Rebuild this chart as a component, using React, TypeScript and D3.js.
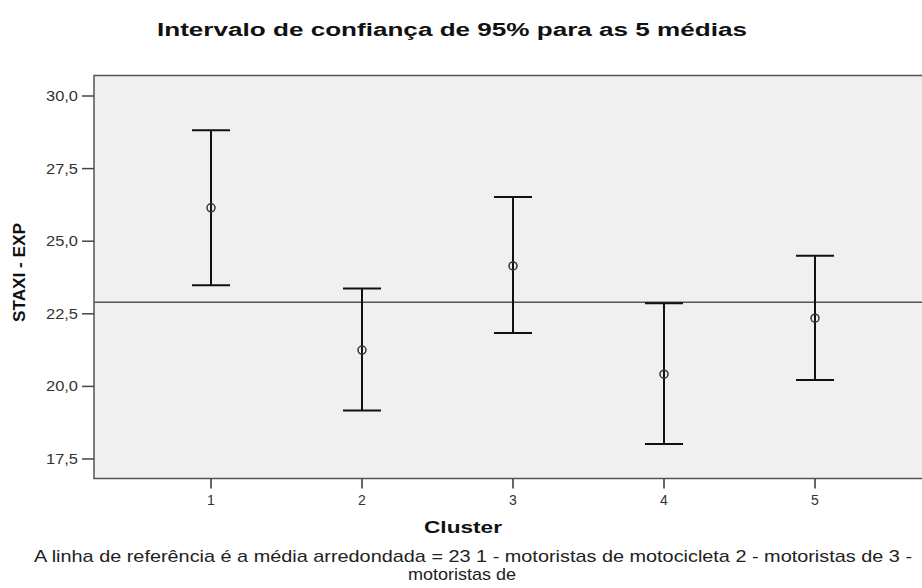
import React from "react";
import * as d3 from "d3";

const clusters = ["1", "2", "3", "4", "5"];
const means = [26.15, 21.25, 24.15, 20.42, 22.35];
const lower = [23.48, 19.17, 21.84, 18.02, 20.22];
const upper = [28.82, 23.37, 26.52, 22.86, 24.5];
const yTicks = [17.5, 20.0, 22.5, 25.0, 27.5, 30.0];
const refValue = 22.9;

const title = "Intervalo de confiança de 95% para as 5 médias";
const yLabel = "STAXI - EXP";
const xLabel = "Cluster";
const foot1 = "A linha de referência é a média arredondada = 23 1 - motoristas de motocicleta 2 - motoristas de 3 -";
const foot2 = "motoristas de";

export default function App() {
  const W = 922, H = 588;
  const left = 94, right = 932, top = 75.5, bottom = 478.5;
  const x = d3.scalePoint<string>().domain(clusters).range([211, 815]);
  const y = d3.scaleLinear().domain([17.5, 30]).range([459, 96]);
  const fmt = (v: number) => v.toFixed(1).replace(".", ",");
  const font = "'Liberation Sans', Arial, sans-serif";
  const capW = 19;
  return (
    <svg width={W} height={H} style={{ position: "absolute", left: 0, top: 0, display: "block" }}>
      <rect x={0} y={0} width={W} height={H} fill="#fff" />
      <text x={452} y={36} textAnchor="middle" fontFamily={font} fontWeight="bold" fontSize={18} fill="#111" textLength={590} lengthAdjust="spacingAndGlyphs">{title}</text>
      <rect x={left} y={top} width={right - left} height={bottom - top} fill="#f0f0f0" stroke="#555" strokeWidth={1.5} />
      {yTicks.map((t) => (
        <g key={t}>
          <line x1={left - 12} x2={left} y1={y(t)} y2={y(t)} stroke="#444" strokeWidth={1.5} />
          <text x={left - 16} y={y(t) + 5} textAnchor="end" fontFamily={font} fontSize={14} fill="#333" textLength={32} lengthAdjust="spacingAndGlyphs">{fmt(t)}</text>
        </g>
      ))}
      {clusters.map((c) => (
        <g key={c}>
          <line x1={x(c)!} x2={x(c)!} y1={bottom} y2={bottom + 10} stroke="#333" strokeWidth={1.5} />
          <text x={x(c)!} y={505} textAnchor="middle" fontFamily={font} fontSize={14} fill="#333">{c}</text>
        </g>
      ))}
      <line x1={left} x2={right} y1={y(refValue)} y2={y(refValue)} stroke="#555" strokeWidth={1.5} />
      {clusters.map((c, i) => {
        const cx = x(c)!;
        return (
          <g key={"e" + c}>
            <line x1={cx} x2={cx} y1={y(upper[i])} y2={y(lower[i])} stroke="#111" strokeWidth={2} />
            <line x1={cx - capW} x2={cx + capW} y1={y(upper[i])} y2={y(upper[i])} stroke="#111" strokeWidth={2} />
            <line x1={cx - capW} x2={cx + capW} y1={y(lower[i])} y2={y(lower[i])} stroke="#111" strokeWidth={2} />
            <circle cx={cx} cy={y(means[i])} r={4} fill="none" stroke="#333" strokeWidth={1.5} />
          </g>
        );
      })}
      <text x={463} y={533} textAnchor="middle" fontFamily={font} fontWeight="bold" fontSize={17} fill="#111" textLength={78} lengthAdjust="spacingAndGlyphs">{xLabel}</text>
      <text transform={`translate(25,${272.5}) rotate(-90)`} textAnchor="middle" fontFamily={font} fontWeight="bold" fontSize={16} fill="#111" textLength={99} lengthAdjust="spacingAndGlyphs">{yLabel}</text>
      <text x={473} y={562} textAnchor="middle" fontFamily={font} fontSize={17} fill="#222" textLength={878} lengthAdjust="spacingAndGlyphs">{foot1}</text>
      <text x={462} y={580} textAnchor="middle" fontFamily={font} fontSize={17} fill="#222" textLength={108} lengthAdjust="spacingAndGlyphs">{foot2}</text>
    </svg>
  );
}
